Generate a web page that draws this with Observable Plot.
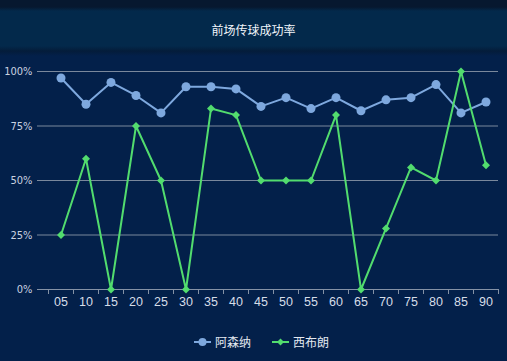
<!DOCTYPE html>
<html><head><meta charset="utf-8">
<script src="https://cdn.jsdelivr.net/npm/d3@7"></script>
<script src="https://cdn.jsdelivr.net/npm/@observablehq/plot@0.6"></script>
<style>
html,body{margin:0;padding:0;}
body{width:507px;height:361px;background:#03204a;position:relative;overflow:hidden;font-family:"Noto Sans CJK SC","Liberation Sans",sans-serif;}
#header{position:absolute;left:0;top:0;width:507px;height:56px;background:linear-gradient(to bottom,#07182f 0px,#07182f 7px,#03294b 11px,#03294b 46px,#041c3a 51px,#03204a 56px);}
#title{position:absolute;left:0;top:21px;width:507px;text-align:center;color:#f2f6fb;font-size:12px;line-height:18px;}
#chart{position:absolute;top:56px;left:0;}
#legend{position:absolute;top:333px;left:8px;width:507px;display:flex;justify-content:center;align-items:center;gap:21px;color:#e4e9f1;font-size:12px;line-height:18px;}
.item{display:flex;align-items:center;gap:4px;}
</style></head>
<body>
<div id="header"><div id="title">前场传球成功率</div></div>
<div id="chart"></div>
<div id="legend"></div>
<script>
const minutes = ["05","10","15","20","25","30","35","40","45","50","55","60","65","70","75","80","85","90"];
const arsenal = [97,85,95,89,81,93,93,92,84,88,83,88,82,87,88,94,81,86];
const westBrom = [25,60,0,75,50,0,83,80,50,50,50,80,0,28,56,50,100,57];
const yTicks = [0,25,50,75,100];
const teams = ["阿森纳","西布朗"];
const colors = ["#7ea8de","#52dc6e"];

const rowsA = minutes.map((m,i)=>({pos:i+0.5, minute:m, value:arsenal[i]}));
const rowsW = minutes.map((m,i)=>({pos:i+0.5, minute:m, value:westBrom[i]}));

const chart = Plot.plot({
  width:507, height:255,
  marginLeft:37, marginRight:9, marginTop:15, marginBottom:22,
  style:{background:"transparent", fontFamily:"'Liberation Sans', sans-serif", fontSize:"12px", color:"#d3dbe7"},
  x:{domain:[-0.44, minutes.length], label:null},
  y:{domain:[0,100], label:null},
  marks:[
    Plot.ruleY(yTicks.filter(d=>d>0), {stroke:"#7a889c", strokeWidth:1}),
    Plot.ruleY([0], {stroke:"#8592a6", strokeWidth:1}),
    Plot.axisY({ticks:yTicks, tickSize:0, tickPadding:5, label:null, tickFormat:d=>d+"%", fill:"#c9d2e0", fontSize:11, fontFamily:"'DejaVu Sans Condensed','DejaVu Sans',sans-serif"}),
    Plot.axisX({ticks:d3.range(0, minutes.length+1), tickSize:5, label:null, tickFormat:()=>"", stroke:"#8592a6"}),
    Plot.axisX({ticks:minutes.map((_,i)=>i+0.5), tickSize:0, tickPadding:8, label:null, tickFormat:d=>minutes[Math.floor(d)], fill:"#d6dde8", fontSize:12.5}),
    Plot.line(rowsA, {x:"pos", y:"value", stroke:colors[0], strokeWidth:2}),
    Plot.dot(rowsA, {x:"pos", y:"value", fill:colors[0], r:4.5}),
    Plot.line(rowsW, {x:"pos", y:"value", stroke:colors[1], strokeWidth:2}),
    Plot.dot(rowsW, {x:"pos", y:"value", fill:colors[1], symbol:"diamond2", r:3.6})
  ]
});
document.getElementById("chart").appendChild(chart);

const legend = document.getElementById("legend");
teams.forEach((t,i)=>{
  const item = document.createElement("div");
  item.className = "item";
  const sym = i===0
    ? `<circle cx="8.5" cy="7" r="4" fill="${colors[i]}"/>`
    : `<path d="M8.5 3.5 L12 7 L8.5 10.5 L5 7 Z" fill="${colors[i]}"/>`;
  item.innerHTML = `<svg width="17" height="14"><line x1="0" y1="7" x2="17" y2="7" stroke="${colors[i]}" stroke-width="2"/>${sym}</svg><span>${t}</span>`;
  legend.appendChild(item);
});
</script>
</body></html>
